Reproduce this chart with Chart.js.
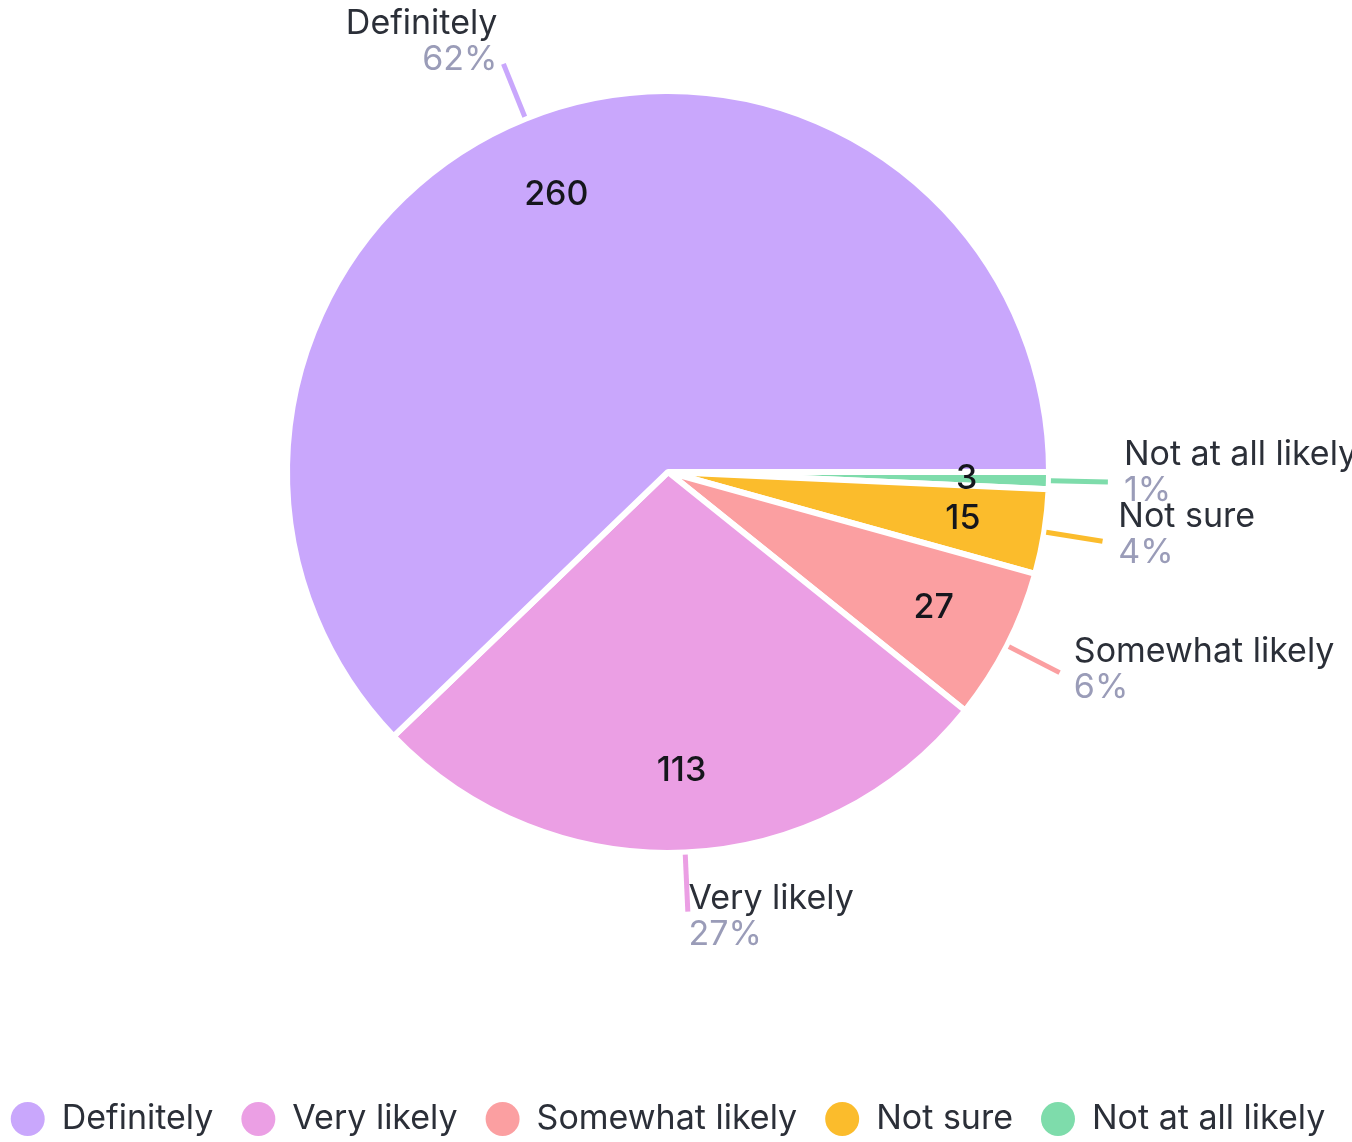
<!DOCTYPE html>
<html>
<head>
<meta charset="utf-8">
<title>Survey responses</title>
<script src="https://cdn.jsdelivr.net/npm/chart.js@4/dist/chart.umd.min.js"></script>
<style>
  html, body { margin: 0; padding: 0; background: #ffffff; }
  #wrap { position: relative; width: 1352px; height: 1142px; }
</style>
</head>
<body>
<div id="wrap"><canvas id="chart"></canvas></div>
<script>
// Answers, in legend order
const categories = ['Definitely', 'Very likely', 'Somewhat likely', 'Not sure', 'Not at all likely'];
const responses = [260, 113, 27, 15, 3];
const sliceColors = ['#c9a7fc', '#eb9fe4', '#fb9fa1', '#fbbc2c', '#7edcab'];

const FONT = 'Inter, "Noto Sans", sans-serif';
const FONT_SIZE = 34;
const NAME_COLOR = '#2b2f38';
const PCT_COLOR = '#9a9cb8';
const total = responses.reduce((a, b) => a + b, 0);

// Chart.js sweeps clockwise; the slices run anticlockwise from 3 o'clock,
// so the dataset is fed in reverse.
const drawLabels = categories.slice().reverse();
const drawValues = responses.slice().reverse();
const drawColors = sliceColors.slice().reverse();

// values inside the slices, leader lines, names and shares outside
const sliceLabels = {
  id: 'sliceLabels',
  afterDatasetsDraw(chart) {
    const ctx = chart.ctx;
    const meta = chart.getDatasetMeta(0);
    const values = chart.data.datasets[0].data;
    const colors = chart.data.datasets[0].backgroundColor;
    meta.data.forEach((arc, i) => {
      const p = arc.getProps(['x', 'y', 'startAngle', 'endAngle', 'outerRadius'], true);
      const mid = (p.startAngle + p.endAngle) / 2;
      const cos = Math.cos(mid), sin = Math.sin(mid);
      const r = p.outerRadius - 3;
      const v = values[i];

      ctx.save();
      ctx.font = '500 ' + FONT_SIZE + 'px ' + FONT;
      ctx.fillStyle = '#15161c';
      ctx.textAlign = 'center';
      ctx.textBaseline = 'middle';
      ctx.fillText(String(v), p.x + cos * r * 0.79, p.y + sin * r * 0.79);

      const r0 = r + 5, r1 = r + 62;
      ctx.strokeStyle = colors[i];
      ctx.lineWidth = 5;
      ctx.beginPath();
      ctx.moveTo(p.x + cos * r0, p.y + sin * r0);
      ctx.lineTo(p.x + cos * r1, p.y + sin * r1);
      ctx.stroke();

      const ex = p.x + cos * r1, ey = p.y + sin * r1;
      const tx = ex + 16 * cos;
      const nameY = ey - 27 + 14 * sin;
      ctx.textAlign = cos >= 0 ? 'left' : 'right';
      ctx.font = '400 ' + FONT_SIZE + 'px ' + FONT;
      ctx.fillStyle = NAME_COLOR;
      ctx.fillText(chart.data.labels[i], tx, nameY);
      ctx.fillStyle = PCT_COLOR;
      ctx.fillText(Math.round(v / total * 100) + '%', tx, nameY + 36);
      ctx.restore();
    });
  }
};

// one-row legend under the pie, in answer order
const bottomLegend = {
  id: 'bottomLegend',
  afterDraw(chart) {
    const ctx = chart.ctx;
    const dotR = 17, textGap = 17, itemGap = 28;
    const centerX = (chart.chartArea.left + chart.chartArea.right) / 2;
    const y = chart.height - 23;
    ctx.save();
    ctx.font = '400 ' + FONT_SIZE + 'px ' + FONT;
    const widths = categories.map(c => dotR * 2 + textGap + ctx.measureText(c).width);
    const span = widths.reduce((a, b) => a + b, 0) + itemGap * (widths.length - 1);
    let x = centerX - span / 2;
    ctx.textAlign = 'left';
    ctx.textBaseline = 'middle';
    categories.forEach((c, i) => {
      ctx.fillStyle = sliceColors[i];
      ctx.beginPath();
      ctx.arc(x + dotR, y, dotR, 0, Math.PI * 2);
      ctx.fill();
      ctx.fillStyle = NAME_COLOR;
      ctx.fillText(c, x + dotR * 2 + textGap, y);
      x += widths[i] + itemGap;
    });
    ctx.restore();
  }
};

new Chart(document.getElementById('chart'), {
  type: 'pie',
  data: {
    labels: drawLabels,
    datasets: [{
      data: drawValues,
      backgroundColor: drawColors,
      borderColor: '#ffffff',
      borderWidth: 6,
      hoverOffset: 0
    }]
  },
  options: {
    responsive: true,
    maintainAspectRatio: false,
    animation: false,
    rotation: 90,
    radius: 381,
    layout: { padding: { left: 0, right: 16, top: 0, bottom: 198 } },
    plugins: {
      tooltip: { enabled: false },
      legend: { display: false }
    }
  },
  plugins: [sliceLabels, bottomLegend]
});
</script>
</body>
</html>
